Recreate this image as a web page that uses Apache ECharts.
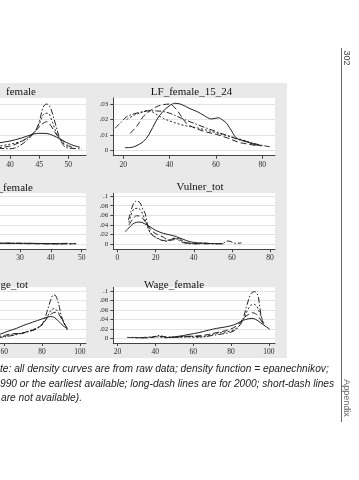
<!DOCTYPE html>
<html><head><meta charset="utf-8">
<script src="https://cdn.jsdelivr.net/npm/echarts@6/dist/echarts.min.js"></script>
<style>html,body{margin:0;padding:0;background:#fff}#c{width:359px;height:480px}</style>
</head><body><div id="c"></div>
<script>
// ---------- panel titles & ticks ----------
const panelTitles = ['female', 'LF_female_15_24', '_female', 'Vulner_tot', 'ge_tot', 'Wage_female'];
const xTickValues = [[30, 35, 40, 45, 50], [20, 40, 60, 80], [0, 10, 20, 30, 40, 50], [0, 20, 40, 60, 80], [20, 40, 60, 80, 100], [20, 40, 60, 80, 100]];
const yTickValues = [[0, .01, .02, .03], [0, .01, .02, .03], [0, .02, .04, .06, .08, .1], [0, .02, .04, .06, .08, .1], [0, .02, .04, .06, .08, .1], [0, .02, .04, .06, .08, .1]];
const xRanges = [[25.3, 53.04], [15.7, 85.5], [-1.0, 51.4], [-2.2, 82.6], [17.8, 103.2], [17.8, 103.2]];
const yRanges = [[-0.0035, 0.0339], [-0.0035, 0.0339], [-0.01035, 0.1056], [-0.01035, 0.1056], [-0.00994, 0.1078], [-0.00994, 0.1078]];

// ---------- panel 1: LF_female (left, clipped) ----------
const lfFem_solid = [[30, .001], [35, .003], [38, .0048], [40, .006], [42, .008], [44, .0105], [45, .011], [46, .011], [47, .0102], [48, .0085], [49, .0065], [50, .0045], [51, .003], [52, .002]];
const lfFem_long = [[36, .001], [39, .002], [41, .004], [43, .008], [44.5, .013], [45.5, .017], [46.3, .0185], [47, .016], [48, .010], [49, .006], [50, .003], [51, .0015]];
const lfFem_short = [[37, .002], [40, .004], [42, .006], [44, .011], [45, .017], [46, .024], [46.5, .024], [47.3, .018], [48, .011], [49, .005], [50, .002]];
const lfFem_dashdot = [[36, .002], [38.5, .0012], [40, .001], [41.7, .003], [44, .0107], [44.9, .017], [45.7, .028], [46.3, .030], [46.9, .028], [47.8, .017], [48.6, .0072], [49.7, .0017], [52.3, .001]];

// ---------- panel 2: LF_female_15_24 ----------
const lf1524_solid = [[20.7, .0017], [23, .0018], [25, .0025], [28.6, .0056], [31, .010], [34.4, .0196], [37, .025], [40.1, .029], [42.3, .0305], [45, .0298], [48.8, .027], [52, .025], [54.5, .0229], [58.1, .0203], [61, .0211], [63, .0195], [64.6, .0175], [67, .012], [68.9, .0078], [73.3, .0056], [76, .004], [79.7, .0028]];
const lf1524_long = [[23, .011], [26, .016], [28.6, .0218], [31, .025], [34.4, .0283], [37, .0295], [40.1, .030], [42, .028], [43.7, .025], [45.5, .021], [47.3, .0175], [50, .015], [53.1, .0132], [56, .0118], [60.3, .0103], [65, .008], [70.3, .005], [74, .004], [77.5, .003]];
const lf1524_short = [[21.5, .020], [25, .023], [28.6, .025], [30.8, .026], [33, .0245], [37.3, .0207], [42, .018], [46, .0162], [52, .0145], [56, .013], [60.3, .0113], [66, .009], [71.8, .0067], [76, .0045], [80.4, .0028]];
const lf1524_dashdot = [[16.4, .0143], [19, .018], [21.5, .0218], [25, .0238], [28.6, .025], [31.5, .0256], [34.4, .0255], [37, .0252], [40.1, .024], [44, .0215], [48.8, .0185], [54, .0155], [60.3, .012], [65, .0095], [70.3, .0067], [76, .0045], [80, .0032], [83.3, .0023]];

// ---------- panel 3: Vulner_female (left, clipped) ----------
const vulFem_solid = [[10, .004], [20, .003], [25, .002], [30, .002], [35, .0018], [40, .0012], [44, .001]];
const vulFem_long = [[20, .003], [30, .0015], [40, .001], [46, .001], [49, .0018]];
const vulFem_short = [[25, .002], [35, .0015], [42, .0012], [47, .0008]];
const vulFem_dashdot = [[25, .0025], [33, .002], [40, .0015], [45, .002], [48, .001]];

// ---------- panel 4: Vulner_tot ----------
const vulTot_solid = [[3.9, .026], [6, .034], [8, .042], [10, .0455], [11.8, .046], [14, .043], [17, .0365], [20, .029], [24, .0227], [28, .019], [31, .0157], [34, .011], [38, .0054], [42, .003], [45, .002], [50, .0015], [55.5, .001]];
const vulTot_long = [[6, .040], [8, .052], [10, .059], [12, .058], [14, .050], [16, .038], [18, .028], [21, .020], [24, .015], [27, .008], [30, .010], [32, .012], [35, .005], [38, .002], [42, .001], [48, .001]];
const vulTot_short = [[6, .045], [7.5, .065], [9, .074], [11, .0745], [12.5, .068], [14, .055], [15.5, .040], [17, .025], [20, .015], [23, .009], [25, .006], [28, .010], [30, .013], [33, .008], [36, .003], [40, .002], [45, .002], [50, .0015], [55, .001]];
const vulTot_dashdot = [[5.7, .050], [7, .068], [8.5, .085], [10, .0897], [11.8, .086], [13, .075], [14.5, .064], [15.5, .045], [16.5, .030], [18, .020], [21, .012], [24, .008], [27, .009], [30, .012], [33, .006], [36, .002], [40, .001], [45, .003], [50, .001], [55, .002], [58, .007], [62, .002], [65, .003]];

// ---------- panel 5: Wage_tot (left, clipped) ----------
const wageTot_solid = [[50, .002], [55, .005], [58, .009], [62, .015], [66.5, .021], [70, .027], [75, .034], [80, .041], [82, .044], [84.5, .046], [86.5, .044], [89, .035], [91, .027], [93.4, .020]];
const wageTot_long = [[55, .003], [60, .006], [65, .010], [68.5, .010], [72, .014], [75, .0175], [80, .028], [82.5, .042], [85, .052], [87, .055], [89, .050], [91, .036], [93.4, .020]];
const wageTot_short = [[55, .002], [60, .004], [65, .008], [70, .012], [75, .018], [79, .026], [82, .040], [84.5, .058], [86.5, .063], [88, .058], [90, .045], [92, .030], [93.5, .020]];
const wageTot_dashdot = [[50, .001], [58, .002], [63, .005], [68, .009], [72, .013], [76, .018], [79, .025], [80.8, .035], [82.5, .055], [84.5, .080], [86, .0915], [87.2, .090], [88.2, .080], [89.2, .065], [90, .050], [91.5, .033], [93.4, .0175]];

// ---------- panel 6: Wage_female ----------
const wageFem_solid = [[45, .001], [50, .003], [55, .006], [58.3, .0085], [63, .012], [68, .017], [72.4, .021], [77, .024], [81.2, .028], [84, .033], [86.4, .038], [89, .041], [91, .042], [93, .040], [95.5, .033], [98, .026], [100.5, .019]];
const wageFem_long = [[28, .002], [35, .001], [42, .004], [48, .002], [55, .004], [62, .005], [68, .008], [72.4, .012], [77, .016], [81.2, .022], [84, .030], [86.5, .042], [89, .050], [91.5, .054], [93.5, .050], [95.5, .040], [97, .030]];
const wageFem_short = [[30, .001], [40, .003], [45, .002], [50, .002], [55, .003], [62, .002], [68, .006], [72.4, .0106], [77, .013], [81.2, .0176], [84, .025], [86.5, .040], [88.5, .058], [90.5, .070], [92, .072], [93.5, .068], [95, .055], [96.5, .040], [97.5, .030]];
const wageFem_dashdot = [[25, .002], [32, .001], [38, .002], [42, .006], [45, .003], [50, .002], [55, .003], [60, .004], [65, .003], [70, .006], [75, .009], [80, .013], [83, .020], [85, .030], [86.4, .042], [88, .065], [90, .090], [91.5, .098], [92.6, .0985], [93.5, .095], [94.3, .090], [95.2, .065], [96.1, .042], [97, .030]];

const panelSeries = [
  [lfFem_solid, lfFem_long, lfFem_short, lfFem_dashdot],
  [lf1524_solid, lf1524_long, lf1524_short, lf1524_dashdot],
  [vulFem_solid, vulFem_long, vulFem_short, vulFem_dashdot],
  [vulTot_solid, vulTot_long, vulTot_short, vulTot_dashdot],
  [wageTot_solid, wageTot_long, wageTot_short, wageTot_dashdot],
  [wageFem_solid, wageFem_long, wageFem_short, wageFem_dashdot]
];
const seriesNames = ['1990 (solid)', '2000 (long dash)', 'short dash', 'dash-dot'];

// ---------- layout (px) ----------
const gridBoxes = [
  {left: -75.7, top: 98, width: 161.7, height: 57.7},
  {left: 113.3, top: 98, width: 161.7, height: 57.7},
  {left: -75.7, top: 193.3, width: 161.7, height: 56},
  {left: 113.3, top: 193.3, width: 161.7, height: 56},
  {left: -75.7, top: 287.3, width: 161.7, height: 55.7},
  {left: 113.3, top: 287.3, width: 161.7, height: 55.7}
];
const titlePos = [
  {x: 36, y: 92, align: 'right'}, {x: 191.5, y: 92, align: 'center'},
  {x: 33, y: 188, align: 'right'}, {x: 200, y: 187.5, align: 'center'},
  {x: 28, y: 285, align: 'right'}, {x: 174, y: 285, align: 'center'}
];
const dashStyles = ['solid', [6, 3], [2, 2], [6, 2, 1.5, 2]];
const INK = '#2b2b2b';
const serif = 'Liberation Serif';
const noteFont = 'italic 10.2px "Liberation Sans"';

function fmtY(v) {
  if (Math.abs(v) < 1e-12) return '0';
  return String(+v.toFixed(3)).replace(/^0\./, '.');
}

const grid = gridBoxes.map(b => Object.assign({
  show: true, backgroundColor: '#ffffff', borderWidth: 0, containLabel: false, outerBoundsMode: 'none'
}, b));

const xAxis = gridBoxes.map((b, i) => ({
  type: 'value', gridIndex: i, min: xRanges[i][0], max: xRanges[i][1],
  axisLine: {show: true, onZero: false, lineStyle: {color: '#444', width: 1}},
  axisTick: {show: true, length: 3, inside: false, customValues: xTickValues[i], lineStyle: {color: '#444'}},
  axisLabel: {show: true, customValues: xTickValues[i], margin: 5, fontFamily: serif, fontSize: 7.5, color: INK,
              showMinLabel: true, showMaxLabel: true, hideOverlap: false},
  splitLine: {show: false}
}));

const yAxis = gridBoxes.map((b, i) => ({
  type: 'value', gridIndex: i, min: yRanges[i][0], max: yRanges[i][1],
  axisLine: {show: true, onZero: false, lineStyle: {color: '#444', width: 1}},
  axisTick: {show: true, length: 3, inside: false, customValues: yTickValues[i], lineStyle: {color: '#444'}},
  axisLabel: {show: true, customValues: yTickValues[i], margin: 5, fontFamily: serif, fontSize: 7, color: INK,
              formatter: fmtY, showMinLabel: true, showMaxLabel: true, hideOverlap: false},
  splitLine: {show: true, lineStyle: {color: '#e3e3e3', width: 1}}
}));

const series = [];
panelSeries.forEach((arr, i) => {
  arr.forEach((data, k) => {
    series.push({
      type: 'line', name: seriesNames[k], xAxisIndex: i, yAxisIndex: i, data: data,
      showSymbol: false, symbol: 'none', smooth: 0.35, clip: true, silent: true,
      lineStyle: {color: '#222', width: 1, type: dashStyles[k]}
    });
  });
});

const graphic = [
  {type: 'rect', z: -10, silent: true, shape: {x: 0, y: 83, width: 287, height: 275}, style: {fill: '#e9e9e9'}},
  {type: 'line', silent: true, shape: {x1: 341.5, y1: 48, x2: 341.5, y2: 422}, style: {stroke: '#666', lineWidth: 1}},
  {type: 'text', silent: true, x: 346.5, y: 58, rotation: -Math.PI / 2,
   style: {text: '302', font: '9px "Liberation Sans"', fill: '#444', textAlign: 'center', textVerticalAlign: 'middle'}},
  {type: 'text', silent: true, x: 346, y: 398, rotation: -Math.PI / 2,
   style: {text: 'Appendix', font: '9px "Liberation Sans"', fill: '#666', textAlign: 'center', textVerticalAlign: 'middle'}},
  {type: 'text', silent: true, x: 0, y: 369,
   style: {text: 'te: all density curves are from raw data; density function = epanechnikov;', font: noteFont, fill: '#222', textAlign: 'left', textVerticalAlign: 'middle'}},
  {type: 'text', silent: true, x: 0, y: 384,
   style: {text: '990 or the earliest available; long-dash lines are for 2000; short-dash lines', font: noteFont, fill: '#222', textAlign: 'left', textVerticalAlign: 'middle'}},
  {type: 'text', silent: true, x: 1, y: 398,
   style: {text: 'are not available).', font: noteFont, fill: '#222', textAlign: 'left', textVerticalAlign: 'middle'}}
];
panelTitles.forEach((t, i) => {
  graphic.push({type: 'text', silent: true, x: titlePos[i].x, y: titlePos[i].y,
    style: {text: t, font: '11px "Liberation Serif"', fill: '#111', textAlign: titlePos[i].align, textVerticalAlign: 'middle'}});
});

const chart = echarts.init(document.getElementById('c'), null, {renderer: 'canvas'});
chart.setOption({
  animation: false,
  backgroundColor: '#ffffff',
  grid: grid, xAxis: xAxis, yAxis: yAxis, series: series, graphic: graphic
});
</script>
</body></html>
